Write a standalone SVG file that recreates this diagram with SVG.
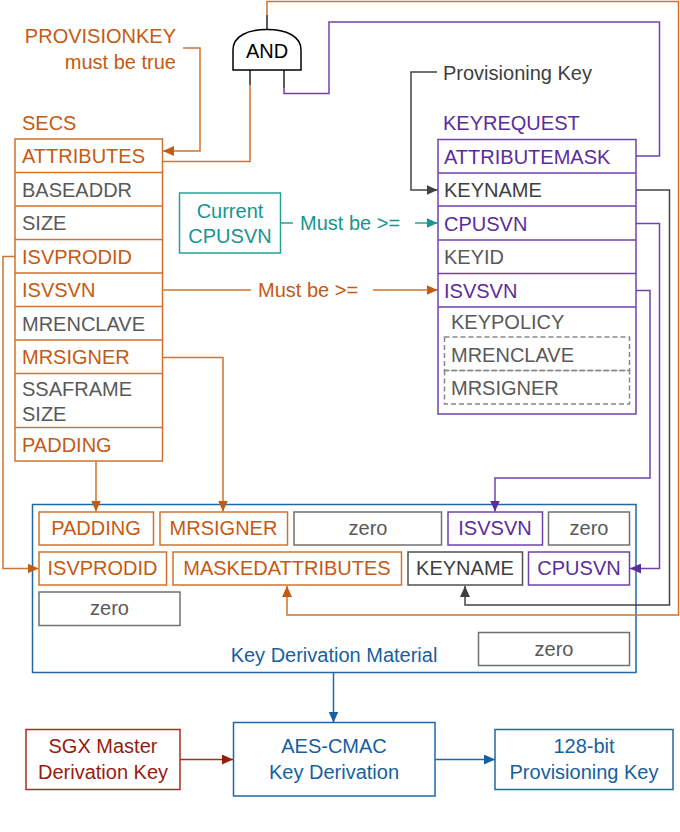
<svg xmlns="http://www.w3.org/2000/svg" width="680" height="832" viewBox="0 0 680 832">
<defs>
<style>
text{font-family:"Liberation Sans",Arial,Helvetica,sans-serif;font-size:20px}
.or{fill:#c55a11}.gr{fill:#595959}.dk{fill:#404040}.pu{fill:#5a2d9c}.te{fill:#17958f}.bl{fill:#17609e}.rd{fill:#971c0e}.bk{fill:#000}
.mid{text-anchor:middle}.end{text-anchor:end}
.bxo{fill:#fff;stroke:#cf7330;stroke-width:1.5}
.bxp{fill:#fff;stroke:#6f42ae;stroke-width:1.5}
.bxg{fill:#fff;stroke:#707070;stroke-width:1.5}
.bxd{fill:#fff;stroke:#505050;stroke-width:1.5}
.bxt{fill:#fff;stroke:#24a09b;stroke-width:1.5}
.bxb{fill:#fff;stroke:#1f68a8;stroke-width:1.5}
.bxr{fill:#fff;stroke:#a0301f;stroke-width:1.5}
.frame{fill:none;stroke:#1f68a8;stroke-width:1.5}
.dash{fill:none;stroke:#888;stroke-width:1.5;stroke-dasharray:5 3}
.lo{fill:none;stroke:#cf7330;stroke-width:1.5}
.lp{fill:none;stroke:#6f42ae;stroke-width:1.5}
.lg{fill:none;stroke:#444;stroke-width:1.5}
.lt{fill:none;stroke:#24a09b;stroke-width:1.5}
.lb{fill:none;stroke:#1f68a8;stroke-width:1.5}
.lr{fill:none;stroke:#a0301f;stroke-width:1.5}
.lk{fill:none;stroke:#222;stroke-width:1.5}
</style>
<marker id="ao" markerUnits="userSpaceOnUse" markerWidth="12" markerHeight="10" refX="11" refY="5" orient="auto"><path d="M0,0 L11,5 L0,10 Z" fill="#c55a11"/></marker>
<marker id="ap" markerUnits="userSpaceOnUse" markerWidth="12" markerHeight="10" refX="11" refY="5" orient="auto"><path d="M0,0 L11,5 L0,10 Z" fill="#5a2d9c"/></marker>
<marker id="ag" markerUnits="userSpaceOnUse" markerWidth="12" markerHeight="10" refX="11" refY="5" orient="auto"><path d="M0,0 L11,5 L0,10 Z" fill="#404040"/></marker>
<marker id="at" markerUnits="userSpaceOnUse" markerWidth="12" markerHeight="10" refX="11" refY="5" orient="auto"><path d="M0,0 L11,5 L0,10 Z" fill="#17958f"/></marker>
<marker id="ab" markerUnits="userSpaceOnUse" markerWidth="12" markerHeight="10" refX="11" refY="5" orient="auto"><path d="M0,0 L11,5 L0,10 Z" fill="#17609e"/></marker>
<marker id="ar" markerUnits="userSpaceOnUse" markerWidth="12" markerHeight="10" refX="11" refY="5" orient="auto"><path d="M0,0 L11,5 L0,10 Z" fill="#971c0e"/></marker>
</defs>

<g id="key-derivation-material-frame">
<rect class="frame" x="32.5" y="504.5" width="603.5" height="168"/>
<text class="bl mid" x="334" y="662">Key Derivation Material</text>
</g>

<g id="connectors">
<path class="lo" d="M183,48 H200 V151 H163" marker-end="url(#ao)"/>
<path class="lk" d="M250,70 V85"/>
<path class="lo" d="M250,85 V161.5 H163"/>
<path class="lk" d="M284,70 V88"/>
<path class="lp" d="M284,88 V93.5 H329 V22 H659.5 V156 H636"/>
<path class="lk" d="M267,29 V15"/>
<path class="lo" d="M267,15 V1.5 H678.5 V615 H287 V586" marker-end="url(#ao)"/>
<path class="lg" d="M437,72 H411 V190 H437.5" marker-end="url(#ag)"/>
<path class="lt" d="M281,223 H293"/>
<path class="lt" d="M415,223 H437.5" marker-end="url(#at)"/>
<path class="lo" d="M163,290 H251"/>
<path class="lo" d="M373,290 H437.5" marker-end="url(#ao)"/>
<path class="lo" d="M15,256.5 H3 V568.5 H38.5" marker-end="url(#ao)"/>
<path class="lo" d="M163,357.5 H223 V511.5" marker-end="url(#ao)"/>
<path class="lo" d="M96,461 V511.5" marker-end="url(#ao)"/>
<path class="lg" d="M636,190 H669.5 V605 H465 V586" marker-end="url(#ag)"/>
<path class="lp" d="M636,223.5 H659.5 V568.5 H630" marker-end="url(#ap)"/>
<path class="lp" d="M636,290.5 H650 V478 H495 V511.5" marker-end="url(#ap)"/>
<path class="lb" d="M333.5,673 V722.5" marker-end="url(#ab)"/>
<path class="lr" d="M180,759.5 H233" marker-end="url(#ar)"/>
<path class="lb" d="M435,759.5 H495" marker-end="url(#ab)"/>
</g>

<g id="provisionkey-note">
<text class="or end" x="176" y="43">PROVISIONKEY</text>
<text class="or end" x="176" y="69">must be true</text>
</g>

<g id="and-gate">
<path d="M233,70 V50 C233,36 248,29.5 267,29.5 C286,29.5 301,36 301,50 V70 Z" fill="#fff" stroke="#000" stroke-width="1.5"/>
<text class="bk mid" x="267" y="58">AND</text>
</g>

<g id="secs">
<text class="or" x="22" y="130">SECS</text>
<rect class="bxo" x="15" y="139" width="147.5" height="322"/>
<path d="M15,172.5 H162.5 M15,206 H162.5 M15,239.5 H162.5 M15,273 H162.5 M15,306.5 H162.5 M15,340 H162.5 M15,373.5 H162.5 M15,427.5 H162.5" stroke="#cf7330" stroke-width="1.5" fill="none"/>
<text class="or" x="22" y="163">ATTRIBUTES</text>
<text class="gr" x="22" y="197">BASEADDR</text>
<text class="gr" x="22" y="230">SIZE</text>
<text class="or" x="22" y="264">ISVPRODID</text>
<text class="or" x="22" y="297">ISVSVN</text>
<text class="gr" x="22" y="331">MRENCLAVE</text>
<text class="or" x="22" y="364">MRSIGNER</text>
<text class="gr" x="22" y="396">SSAFRAME</text>
<text class="gr" x="22" y="421">SIZE</text>
<text class="or" x="22" y="452">PADDING</text>
</g>

<g id="current-cpusvn">
<rect class="bxt" x="179.5" y="193" width="101" height="60"/>
<text class="te mid" x="230" y="218">Current</text>
<text class="te mid" x="230" y="243">CPUSVN</text>
</g>

<g id="must-be-labels">
<text class="te" x="300" y="230">Must be &gt;=</text>
<text class="or" x="258" y="297">Must be &gt;=</text>
</g>

<g id="provisioning-key-label">
<text class="dk" x="443" y="80">Provisioning Key</text>
</g>

<g id="keyrequest">
<text class="pu" x="443" y="130">KEYREQUEST</text>
<rect class="bxp" x="438" y="139.5" width="198" height="274.5"/>
<path d="M438,173 H636 M438,206 H636 M438,240 H636 M438,273.5 H636 M438,307 H636" stroke="#6f42ae" stroke-width="1.5" fill="none"/>
<text class="pu" x="444" y="164">ATTRIBUTEMASK</text>
<text class="dk" x="444" y="197">KEYNAME</text>
<text class="pu" x="444" y="231">CPUSVN</text>
<text class="gr" x="444" y="264">KEYID</text>
<text class="pu" x="444" y="298">ISVSVN</text>
<text class="gr" x="451" y="329">KEYPOLICY</text>
<rect class="dash" x="444.5" y="337" width="185" height="33.5"/>
<rect class="dash" x="444.5" y="370.5" width="185" height="33.5"/>
<text class="gr" x="451" y="362">MRENCLAVE</text>
<text class="gr" x="451" y="395">MRSIGNER</text>
</g>

<g id="kdm-fields">
<rect class="bxo" x="39" y="512" width="114.5" height="33"/>
<text class="or mid" x="96" y="535">PADDING</text>
<rect class="bxo" x="160" y="512" width="127.5" height="33"/>
<text class="or mid" x="223.5" y="535">MRSIGNER</text>
<rect class="bxg" x="294" y="512" width="147.5" height="33"/>
<text class="gr mid" x="368" y="535">zero</text>
<rect class="bxp" x="448" y="512" width="94.5" height="33"/>
<text class="pu mid" x="495" y="535">ISVSVN</text>
<rect class="bxg" x="548.5" y="512" width="81" height="33"/>
<text class="gr mid" x="589" y="535">zero</text>
<rect class="bxo" x="39" y="552" width="127.5" height="33"/>
<text class="or mid" x="102.5" y="575">ISVPRODID</text>
<rect class="bxo" x="173" y="552" width="228.5" height="33"/>
<text class="or mid" x="287" y="575">MASKEDATTRIBUTES</text>
<rect class="bxd" x="408" y="552" width="114.5" height="33"/>
<text class="dk mid" x="465" y="575">KEYNAME</text>
<rect class="bxp" x="528.5" y="552" width="101" height="33"/>
<text class="pu mid" x="579" y="575">CPUSVN</text>
<rect class="bxg" x="39" y="592" width="141" height="33.5"/>
<text class="gr mid" x="109.5" y="615">zero</text>
<rect class="bxg" x="478.5" y="632.5" width="151" height="33"/>
<text class="gr mid" x="554" y="656">zero</text>
</g>

<g id="sgx-master">
<rect class="bxr" x="26" y="729.5" width="154" height="60"/>
<text class="rd mid" x="103" y="753">SGX Master</text>
<text class="rd mid" x="103" y="779">Derivation Key</text>
</g>

<g id="aes-cmac">
<rect class="bxb" x="233.5" y="722.5" width="201.5" height="73.5"/>
<text class="bl mid" x="334" y="753">AES-CMAC</text>
<text class="bl mid" x="334" y="779">Key Derivation</text>
</g>

<g id="provisioning-key">
<rect class="bxb" x="495" y="729.5" width="178" height="60"/>
<text class="bl mid" x="584" y="753">128-bit</text>
<text class="bl mid" x="584" y="779">Provisioning Key</text>
</g>
</svg>
